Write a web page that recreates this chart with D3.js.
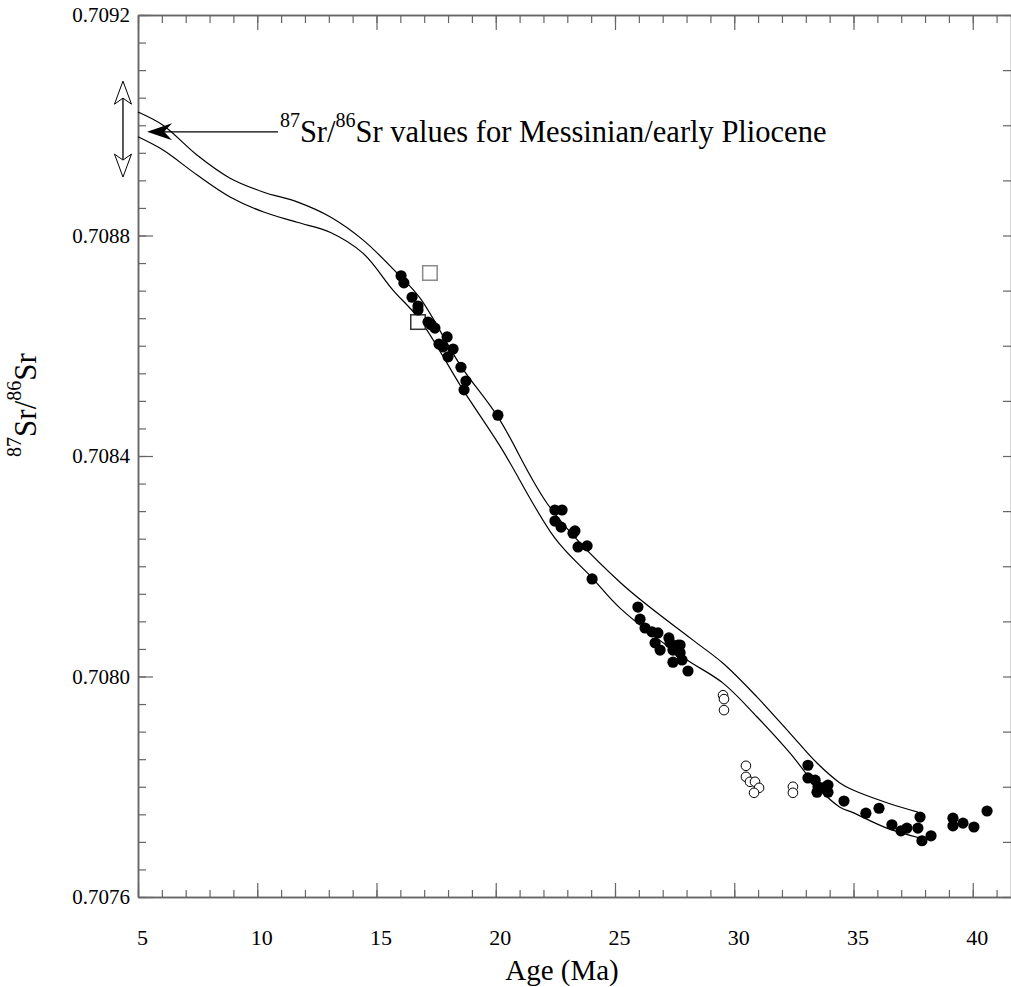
<!DOCTYPE html>
<html>
<head>
<meta charset="utf-8">
<script src="https://cdn.jsdelivr.net/npm/d3@7"></script>
<style>
  html, body { margin: 0; padding: 0; background: #fff; }
  svg { display: block; }
  text { font-family: "Liberation Serif", "Times New Roman", serif; fill: #000; }
</style>
</head>
<body>
<svg id="chart" width="1011" height="987"></svg>
<script>
// ---------------- data ----------------
// envelope of seawater 87Sr/86Sr curve
const upperAge = [5.00, 6.05, 7.47, 8.86, 10.24, 11.67, 13.05, 14.43, 15.86, 16.82, 18.54, 20.09, 22.27, 25.21, 28.27, 29.53, 30.95, 32.34, 33.47, 34.43, 34.98, 36.40, 37.70];
const upperSr  = [0.709024, 0.709000, 0.708946, 0.708904, 0.708879, 0.708861, 0.708834, 0.708792, 0.708732, 0.708687, 0.708563, 0.708471, 0.708307, 0.708171, 0.708066, 0.708024, 0.707963, 0.707897, 0.707843, 0.707807, 0.707794, 0.707771, 0.707754];
const lowerAge = [5.00, 6.05, 7.47, 8.86, 10.24, 11.67, 13.05, 14.43, 15.69, 16.82, 18.63, 20.18, 22.48, 24.04, 25.21, 27.85, 29.53, 30.95, 32.34, 33.47, 34.43, 34.98, 36.40, 37.79];
const lowerSr  = [0.708979, 0.708955, 0.708910, 0.708870, 0.708843, 0.708824, 0.708806, 0.708768, 0.708701, 0.708647, 0.708520, 0.708418, 0.708251, 0.708179, 0.708124, 0.708035, 0.707988, 0.707927, 0.707861, 0.707800, 0.707763, 0.707753, 0.707725, 0.707707];

// filled circles
const filledAge = [16.03, 16.15, 16.49, 16.74, 16.74, 17.16, 17.29, 17.45, 17.96, 17.62, 17.79, 18.21, 18.00, 18.54, 18.75, 18.67, 20.09,
  22.48, 22.78, 22.48, 22.74, 23.24, 23.32, 23.45, 23.83, 24.04,
  25.96, 26.05, 26.26, 26.55, 26.80, 26.68, 27.26, 27.64, 26.89, 27.31, 27.43, 27.73, 27.73, 27.43, 27.81, 28.06,
  33.09, 33.09, 33.39, 33.51, 33.47, 33.93, 33.93, 33.72, 34.60, 35.52, 36.07, 36.61, 36.99, 37.24, 37.70, 37.79, 37.87, 38.25,
  39.17, 39.17, 39.59, 40.05, 40.60];
const filledSr = [0.708727, 0.708714, 0.708688, 0.708672, 0.708665, 0.708643, 0.708638, 0.708632, 0.708616, 0.708603, 0.708598, 0.708594, 0.708580, 0.708561, 0.708536, 0.708520, 0.708474,
  0.708302, 0.708302, 0.708282, 0.708271, 0.708260, 0.708264, 0.708235, 0.708237, 0.708177,
  0.708126, 0.708104, 0.708088, 0.708081, 0.708079, 0.708061, 0.708070, 0.708057, 0.708048, 0.708061, 0.708048, 0.708057, 0.708043, 0.708026, 0.708030, 0.708010,
  0.707839, 0.707816, 0.707812, 0.707800, 0.707790, 0.707803, 0.707790, 0.707798, 0.707774, 0.707752, 0.707761, 0.707731, 0.707720, 0.707725, 0.707725, 0.707745, 0.707702, 0.707711,
  0.707743, 0.707729, 0.707734, 0.707727, 0.707756];

// open circles
const openAge = [29.53, 29.57, 29.57, 30.49, 30.49, 30.66, 30.87, 31.04, 30.83, 32.46, 32.46];
const openSr  = [0.707966, 0.707959, 0.707939, 0.707838, 0.707818, 0.707809, 0.707809, 0.707798, 0.707789, 0.707800, 0.707789];

// open squares
const squareAge = [17.24, 16.74];
const squareSr  = [0.708732, 0.708643];
const squareTone = ["#8a8a8a", "#333333"];

// axis ticks
const xMajorTicks = [5, 10, 15, 20, 25, 30, 35, 40];
const xMinorTicks = d3.range(5, 42, 1);
const yMajorTicks = [0.7076, 0.7080, 0.7084, 0.7088, 0.7092];
const yMinorTicks = d3.range(0, 33).map(i => 0.7076 + i * 0.00005);
const yRightTicks = d3.range(0, 17).map(i => 0.7076 + i * 0.0001);

// annotation (Messinian / early Pliocene range)
const messinianRange = [0.70908, 0.708906];
const messinianArrowAge = 4.37;
const pointerAge = [5.38, 10.87];
const pointerSr = 0.708988;
const labelAge = 10.95;
const labelSr = 0.70897;

// ---------------- chart ----------------
const svg = d3.select("#chart");
const L = 138, R = 1011, T = 15, B = 897;
const x = d3.scaleLinear().domain([5, 5 + (R - L) / 23.85]).range([L, R]);
const y = d3.scaleLinear().domain([0.7076, 0.7092]).range([B, T]);

const axisColor = "#666";
function styleAxis(g) {
  g.selectAll("path.domain").attr("stroke", axisColor).attr("stroke-width", 1.5);
  g.selectAll(".tick line").attr("stroke", axisColor).attr("stroke-width", 1.2);
}

// left axis
svg.append("g").attr("transform", `translate(${L},0)`)
  .call(d3.axisLeft(y).tickValues(yMinorTicks).tickSize(-8).tickFormat("").tickSizeOuter(0))
  .call(styleAxis);
const yAx = svg.append("g").attr("transform", `translate(${L},0)`)
  .call(d3.axisLeft(y).tickValues(yMajorTicks).tickSize(-15).tickPadding(8).tickSizeOuter(0).tickFormat(d3.format(".4f")))
  .call(styleAxis);
yAx.selectAll("text").attr("font-size", 21).attr("font-family", "Liberation Serif, serif");

// right axis
svg.append("g").attr("transform", `translate(${R},0)`)
  .call(d3.axisRight(y).tickValues(yRightTicks).tickSize(-8).tickFormat("").tickSizeOuter(0))
  .call(styleAxis);

// bottom axis
svg.append("g").attr("transform", `translate(0,${B})`)
  .call(d3.axisBottom(x).tickValues(xMinorTicks).tickSize(-7).tickFormat("").tickSizeOuter(0))
  .call(styleAxis);
const xAx = svg.append("g").attr("transform", `translate(0,${B})`)
  .call(d3.axisBottom(x).tickValues(xMajorTicks).tickSize(-14).tickPadding(32).tickSizeOuter(0))
  .call(styleAxis);
xAx.selectAll("text").attr("font-size", 22).attr("dx", 4).attr("font-family", "Liberation Serif, serif");

// top axis
svg.append("g").attr("transform", `translate(0,${T})`)
  .call(d3.axisTop(x).tickValues(xMinorTicks).tickSize(-8).tickFormat("").tickSizeOuter(0))
  .call(styleAxis);
svg.append("g").attr("transform", `translate(0,${T})`)
  .call(d3.axisTop(x).tickValues(xMajorTicks).tickSize(-15).tickFormat("").tickSizeOuter(0))
  .call(styleAxis);

// envelope curves
const line = d3.line().x(d => x(d[0])).y(d => y(d[1])).curve(d3.curveCatmullRom.alpha(0.5));
svg.append("path").datum(d3.zip(upperAge, upperSr)).attr("d", line)
  .attr("fill", "none").attr("stroke", "#000").attr("stroke-width", 1.2);
svg.append("path").datum(d3.zip(lowerAge, lowerSr)).attr("d", line)
  .attr("fill", "none").attr("stroke", "#000").attr("stroke-width", 1.2);

// open squares
const sq = 14.5;
svg.append("g").selectAll("rect").data(d3.zip(squareAge, squareSr, squareTone)).join("rect")
  .attr("x", d => x(d[0]) - sq / 2).attr("y", d => y(d[1]) - sq / 2)
  .attr("width", sq).attr("height", sq)
  .attr("fill", "#fff").attr("stroke", d => d[2]).attr("stroke-width", 1.5);

// filled circles
svg.append("g").selectAll("circle").data(d3.zip(filledAge, filledSr)).join("circle")
  .attr("cx", d => x(d[0])).attr("cy", d => y(d[1])).attr("r", 5.6).attr("fill", "#000");

// open circles
svg.append("g").selectAll("circle").data(d3.zip(openAge, openSr)).join("circle")
  .attr("cx", d => x(d[0])).attr("cy", d => y(d[1])).attr("r", 4.8)
  .attr("fill", "#fff").attr("stroke", "#000").attr("stroke-width", 1);

// double-headed hollow arrow
const ax = x(messinianArrowAge), ay0 = y(messinianRange[0]), ay1 = y(messinianRange[1]);
const hl = 23, hw = 8.5, notch = 6;
svg.append("line").attr("x1", ax).attr("x2", ax).attr("y1", ay0 + hl - notch).attr("y2", ay1 - hl + notch)
  .attr("stroke", "#000").attr("stroke-width", 1.3);
svg.append("path")
  .attr("d", `M${ax},${ay0} L${ax + hw},${ay0 + hl} L${ax},${ay0 + hl - notch} L${ax - hw},${ay0 + hl} Z`)
  .attr("fill", "#fff").attr("stroke", "#000").attr("stroke-width", 1);
svg.append("path")
  .attr("d", `M${ax},${ay1} L${ax + hw},${ay1 - hl} L${ax},${ay1 - hl + notch} L${ax - hw},${ay1 - hl} Z`)
  .attr("fill", "#fff").attr("stroke", "#000").attr("stroke-width", 1);

// pointer arrow
const px0 = x(pointerAge[0]), px1 = x(pointerAge[1]), py = y(pointerSr);
svg.append("line").attr("x1", px0 + 15).attr("x2", px1).attr("y1", py).attr("y2", py)
  .attr("stroke", "#000").attr("stroke-width", 1.3);
svg.append("path")
  .attr("d", `M${px0},${py} L${px0 + 25},${py - 8.5} L${px0 + 17},${py} L${px0 + 25},${py + 8.5} Z`)
  .attr("fill", "#000");

// annotation text
const ann = svg.append("text").attr("x", x(labelAge)).attr("y", y(labelSr)).attr("font-size", 30.5);
ann.append("tspan").attr("font-size", 20).attr("dy", -15).text("87");
ann.append("tspan").attr("dy", 15).text("Sr/");
ann.append("tspan").attr("font-size", 20).attr("dy", -15).text("86");
ann.append("tspan").attr("dy", 15).text("Sr values for Messinian/early Pliocene");

// y title
const yt = svg.append("text").attr("transform", `translate(36,405) rotate(-90)`)
  .attr("text-anchor", "middle").attr("font-size", 31);
yt.append("tspan").attr("font-size", 20).attr("dy", -15).text("87");
yt.append("tspan").attr("dy", 15).text("Sr/");
yt.append("tspan").attr("font-size", 20).attr("dy", -15).text("86");
yt.append("tspan").attr("dy", 15).text("Sr");

// x title
svg.append("text").attr("x", 562).attr("y", 980).attr("text-anchor", "middle")
  .attr("font-size", 29).text("Age (Ma)");
</script>
</body>
</html>
